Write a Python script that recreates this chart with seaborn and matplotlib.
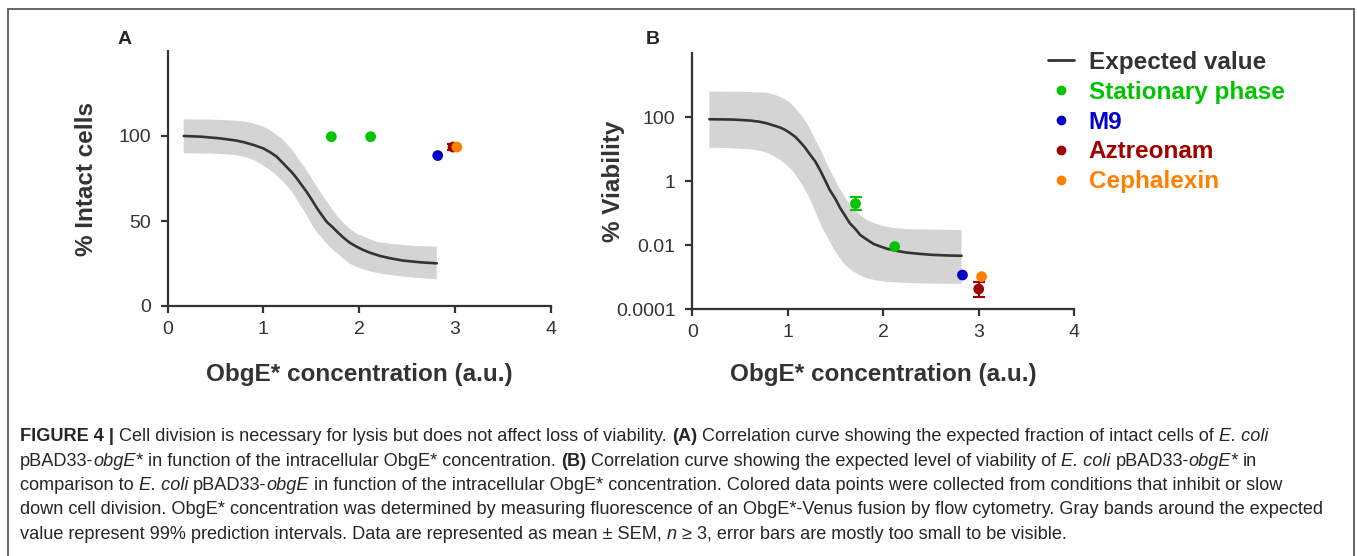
import numpy as np
import pandas as pd
import matplotlib
matplotlib.use("Agg")
import matplotlib.pyplot as plt
import seaborn as sns
from matplotlib.lines import Line2D

# ---------------- data ----------------
conditions = ["Stationary phase", "Stationary phase", "M9", "Aztreonam", "Cephalexin"]
cond_colors = {"Stationary phase": "#00c400", "M9": "#0000c8",
               "Aztreonam": "#a00000", "Cephalexin": "#ff8000"}

# Panel A: % intact cells
ptsA_x = [1.71, 2.12, 2.82, 2.98, 3.02]
ptsA_y = [99.6, 99.6, 88.5, 93.5, 93.5]
ptsA_err = [0.0, 0.0, 0.0, 2.0, 0.0]

curveA_x = [0.17, 0.35, 0.55, 0.72, 0.80, 0.90, 1.00, 1.07, 1.14, 1.24, 1.30, 1.35, 1.45, 1.50,
            1.56, 1.61, 1.66, 1.72, 1.77, 1.83, 1.90, 1.97, 2.04, 2.12, 2.22, 2.33, 2.46, 2.64, 2.81]
curveA_y = [100.0, 99.6, 98.6, 97.3, 96.3, 94.7, 92.7, 90.5, 87.8, 82.0, 78.5, 75.0, 67.3, 63.0,
            57.5, 53.5, 49.6, 46.5, 43.7, 40.5, 37.3, 35.0, 33.0, 31.2, 29.4, 28.0, 26.7, 25.7, 25.1]
bandA_up_x = [0.17, 0.45, 0.72, 0.86, 1.00, 1.07, 1.14, 1.19, 1.24, 1.30, 1.35, 1.40, 1.45, 1.50,
              1.56, 1.63, 1.70, 1.77, 1.84, 1.90, 1.97, 2.06, 2.18, 2.30, 2.46, 2.60, 2.81]
bandA_up_y = [109.8, 109.7, 109.0, 108.0, 105.5, 103.5, 100.6, 98.5, 95.7, 92.0, 87.8, 84.0, 80.0, 75.5,
              70.0, 64.0, 58.4, 53.0, 48.6, 45.5, 42.7, 40.5, 37.8, 36.8, 35.9, 35.3, 34.9]
bandA_lo_x = [0.17, 0.45, 0.72, 0.81, 0.90, 0.98, 1.07, 1.14, 1.21, 1.26, 1.31, 1.36, 1.42, 1.47, 1.52,
              1.57, 1.63, 1.70, 1.77, 1.84, 1.90, 1.97, 2.04, 2.14, 2.25, 2.35, 2.46, 2.60, 2.81]
bandA_lo_y = [89.8, 89.7, 88.8, 87.6, 85.9, 83.3, 80.0, 76.8, 73.0, 69.8, 66.3, 61.5, 56.5, 51.5, 46.7,
              42.5, 38.8, 34.5, 31.0, 27.7, 25.0, 23.0, 21.6, 20.0, 18.8, 18.0, 17.3, 16.6, 15.7]

# Panel B: % viability
ptsB_x = [1.71, 2.12, 2.83, 3.00, 3.03]
ptsB_y = [0.20, 0.0091, 0.00118, 0.00043, 0.00105]
ptsB_lo = [0.124, 0.0091, 0.00118, 0.00025, 0.00105]
ptsB_hi = [0.33, 0.0091, 0.00118, 0.00072, 0.00105]

curveB_x = [0.18, 0.43, 0.61, 0.70, 0.78, 0.92, 0.97, 1.02, 1.08, 1.13, 1.18, 1.23, 1.29, 1.34,
            1.39, 1.44, 1.50, 1.55, 1.60, 1.65, 1.71, 1.76, 1.83, 1.90, 1.97, 2.04, 2.14, 2.25,
            2.38, 2.53, 2.68, 2.82]
curveB_y = [87.0, 85.0, 79.0, 73.0, 65.0, 48.0, 41.0, 33.0, 24.5, 17.0, 11.5, 7.1, 4.1, 2.2,
            1.1, 0.54, 0.28, 0.145, 0.085, 0.049, 0.032, 0.021, 0.015, 0.011, 0.0092, 0.0078,
            0.0067, 0.0059, 0.0054, 0.0050, 0.0048, 0.0047]
bandB_up_x = [0.18, 0.50, 0.78, 0.87, 0.955, 1.03, 1.094, 1.15, 1.20, 1.25, 1.30, 1.355, 1.408,
              1.46, 1.513, 1.565, 1.618, 1.67, 1.722, 1.775, 1.827, 1.91, 2.00, 2.10, 2.25, 2.50, 2.82]
bandB_up_y = [630, 625, 590, 500, 390, 280, 170, 110, 65, 35, 17, 8.5, 3.6,
              1.8, 0.87, 0.47, 0.26, 0.16, 0.11, 0.08, 0.062, 0.049, 0.040, 0.035, 0.032, 0.031, 0.030]
bandB_lo_x = [0.18, 0.40, 0.61, 0.70, 0.78, 0.85, 0.92, 0.99, 1.059, 1.11, 1.164, 1.216, 1.269,
              1.32, 1.373, 1.425, 1.478, 1.53, 1.583, 1.635, 1.688, 1.75, 1.827, 1.93, 2.037,
              2.19, 2.35, 2.60, 2.82]
bandB_lo_y = [11.2, 10.8, 10.0, 9.1, 7.9, 6.3, 4.7, 3.2, 2.0, 1.2, 0.68, 0.36, 0.16,
              0.068, 0.030, 0.016, 0.0081, 0.0047, 0.0028, 0.0020, 0.0015, 0.0012, 0.00093,
              0.00080, 0.00072, 0.00068, 0.00065, 0.00063, 0.00062]

x_ticks = [0, 1, 2, 3, 4]
yA_ticks = [0, 50, 100]
yB_ticks = [1e-4, 1e-2, 1, 100]
yB_ticklabels = ["0.0001", "0.01", "1", "100"]
legend_labels = ["Expected value", "Stationary phase", "M9", "Aztreonam", "Cephalexin"]

# ---------------- style ----------------
sns.set_style("ticks")
plt.rcParams["font.family"] = ["Liberation Sans", "DejaVu Sans"]
DARK = "#333333"
BAND = "#d4d4d4"

W, H = 1357, 556
fig = plt.figure(figsize=(W / 100, H / 100), dpi=100)


def px_axes(l, t, r, b):
    return fig.add_axes([l / W, 1 - b / H, (r - l) / W, (b - t) / H])


def style_axes(ax):
    sns.despine(ax=ax)
    for s in ["left", "bottom"]:
        ax.spines[s].set_color(DARK)
        ax.spines[s].set_linewidth(1.6)
    ax.tick_params(axis="both", which="major", length=5, width=1.6, color=DARK,
                   labelsize=14, labelcolor=DARK)
    ax.tick_params(axis="x", which="major", pad=5.5)
    ax.tick_params(axis="y", which="major", pad=7)
    ax.tick_params(axis="both", which="minor", length=0)


axA = px_axes(167.5, 51, 550.8, 306)
axB = px_axes(692.2, 53.3, 1074.2, 309.3)

# ---- Panel A ----
axA.fill(np.concatenate([bandA_up_x, bandA_lo_x[::-1]]),
         np.concatenate([bandA_up_y, bandA_lo_y[::-1]]), color=BAND, lw=0, zorder=1)
sns.lineplot(x=curveA_x, y=curveA_y, ax=axA, color=DARK, lw=1.9, zorder=2)
dfA = pd.DataFrame({"x": ptsA_x, "y": ptsA_y, "err": ptsA_err, "cond": conditions})
for i, r in dfA.iterrows():
    if r["err"] > 0:
        axA.errorbar(r["x"], r["y"], yerr=r["err"], color=cond_colors[r["cond"]],
                     capsize=4, lw=1.5, capthick=1.5, zorder=3)
sns.scatterplot(data=dfA, x="x", y="y", hue="cond", palette=cond_colors, s=60,
                edgecolor="none", legend=False, ax=axA, zorder=4)
axA.set_xlim(0, 4)
axA.set_ylim(0, 150)
axA.set_xticks(x_ticks)
axA.set_yticks(yA_ticks)
style_axes(axA)

# ---- Panel B ----
axB.set_yscale("log")
axB.fill(np.concatenate([bandB_up_x, bandB_lo_x[::-1]]),
         np.concatenate([bandB_up_y, bandB_lo_y[::-1]]), color=BAND, lw=0, zorder=1)
sns.lineplot(x=curveB_x, y=curveB_y, ax=axB, color=DARK, lw=1.9, zorder=2)
dfB = pd.DataFrame({"x": ptsB_x, "y": ptsB_y, "lo": ptsB_lo, "hi": ptsB_hi, "cond": conditions})
for i, r in dfB.iterrows():
    if r["hi"] > r["y"]:
        axB.errorbar(r["x"], r["y"], yerr=[[r["y"] - r["lo"]], [r["hi"] - r["y"]]],
                     color=cond_colors[r["cond"]], capsize=4, lw=1.5, capthick=1.5, zorder=3)
sns.scatterplot(data=dfB, x="x", y="y", hue="cond", palette=cond_colors, s=60,
                edgecolor="none", legend=False, ax=axB, zorder=4)
axB.set_xlim(0, 4)
axB.set_ylim(1e-4, 1e4)
axB.set_xticks(x_ticks)
axB.set_yticks(yB_ticks)
axB.set_yticklabels(yB_ticklabels)
axB.yaxis.set_minor_locator(matplotlib.ticker.NullLocator())
style_axes(axB)

# labels
lab_kw = dict(fontsize=17.5, fontweight="bold", color=DARK)
axA.set_ylabel("% Intact cells", **lab_kw)
axB.set_ylabel("% Viability", **lab_kw)
axA.set_xlabel("ObgE* concentration (a.u.)", **lab_kw)
axB.set_xlabel("ObgE* concentration (a.u.)", **lab_kw)
axA.yaxis.set_label_coords((98 - 167.5) / 383.3, 0.5)
axB.yaxis.set_label_coords((625 - 692.2) / 382.0, 0.5)
axA.xaxis.set_label_coords(0.5, (306 - 363) / 255)
axB.xaxis.set_label_coords(0.5, (309.3 - 363) / 256)

fig.text(125 / W, 1 - 39 / H, "A", fontsize=14, fontweight="bold", ha="center", va="center")
fig.text(653 / W, 1 - 39 / H, "B", fontsize=14, fontweight="bold", ha="center", va="center")

# legend
handles = [Line2D([], [], color=DARK, lw=2)]
for c in legend_labels[1:]:
    handles.append(Line2D([], [], ls="none", marker="o", markersize=7,
                          markerfacecolor=cond_colors[c], markeredgecolor="none"))
leg = fig.legend(handles, legend_labels, loc="upper left",
                 bbox_to_anchor=(1048 / W, 1 - 51 / H), frameon=False,
                 prop={"size": 17.5, "weight": "bold"}, handlelength=1.05,
                 handletextpad=0.62, labelspacing=0.28, borderaxespad=0, borderpad=0)
leg_text_colors = [DARK] + [cond_colors[c] for c in legend_labels[1:]]
for t, c in zip(leg.get_texts(), leg_text_colors):
    t.set_color(c)

# border
bc = "#5a5a5a"
for xs, ys in [([7.5, 7.5], [556, 9]), ([7.5, 1354], [9, 9]), ([1354, 1354], [9, 556])]:
    fig.add_artist(Line2D([x / W for x in xs], [1 - y / H for y in ys],
                          transform=fig.transFigure, color=bc, lw=1.3))

# caption with mixed styles
caption_lines = [
    [("FIGURE 4 |", "b"), (" Cell division is necessary for lysis but does not affect loss of viability. ", "n"),
     ("(A)", "b"), (" Correlation curve showing the expected fraction of intact cells of ", "n"), ("E. coli", "i")],
    [("pBAD33-", "n"), ("obgE*", "i"), (" in function of the intracellular ObgE* concentration. ", "n"), ("(B)", "b"),
     (" Correlation curve showing the expected level of viability of ", "n"), ("E. coli", "i"),
     (" pBAD33-", "n"), ("obgE*", "i"), (" in", "n")],
    [("comparison to ", "n"), ("E. coli", "i"), (" pBAD33-", "n"), ("obgE", "i"),
     (" in function of the intracellular ObgE* concentration. Colored data points were collected from conditions that inhibit or slow", "n")],
    [("down cell division. ObgE* concentration was determined by measuring fluorescence of an ObgE*-Venus fusion by flow cytometry. Gray bands around the expected", "n")],
    [("value represent 99% prediction intervals. Data are represented as mean \u00b1 SEM, ", "n"), ("n", "i"),
     (" \u2265 3, error bars are mostly too small to be visible.", "n")],
]
CAP_FS = 13.1
CAP_COLOR = "#262626"
styles = {"n": dict(fontweight="normal", fontstyle="normal"),
          "b": dict(fontweight="bold", fontstyle="normal"),
          "i": dict(fontweight="normal", fontstyle="italic")}
renderer = fig.canvas.get_renderer()


def text_w(s, st):
    t = fig.text(0, 0, s, fontsize=CAP_FS, **styles[st])
    w = t.get_window_extent(renderer).width
    t.remove()
    return w


space_w = {k: text_w("a a", k) - text_w("aa", k) for k in styles}
baselines = [441, 465.5, 490, 514.5, 539]
for line, yb in zip(caption_lines, baselines):
    x = 20.0
    for txt, st in line:
        core = txt.strip(" ")
        lead = len(txt) - len(txt.lstrip(" "))
        trail = len(txt) - len(txt.rstrip(" "))
        x += lead * space_w[st]
        t = fig.text(x / W, 1 - yb / H, core, fontsize=CAP_FS, color=CAP_COLOR,
                     va="baseline", ha="left", **styles[st])
        x += t.get_window_extent(renderer).width
        x += trail * space_w[st]

fig.savefig("out.png", dpi=100)
